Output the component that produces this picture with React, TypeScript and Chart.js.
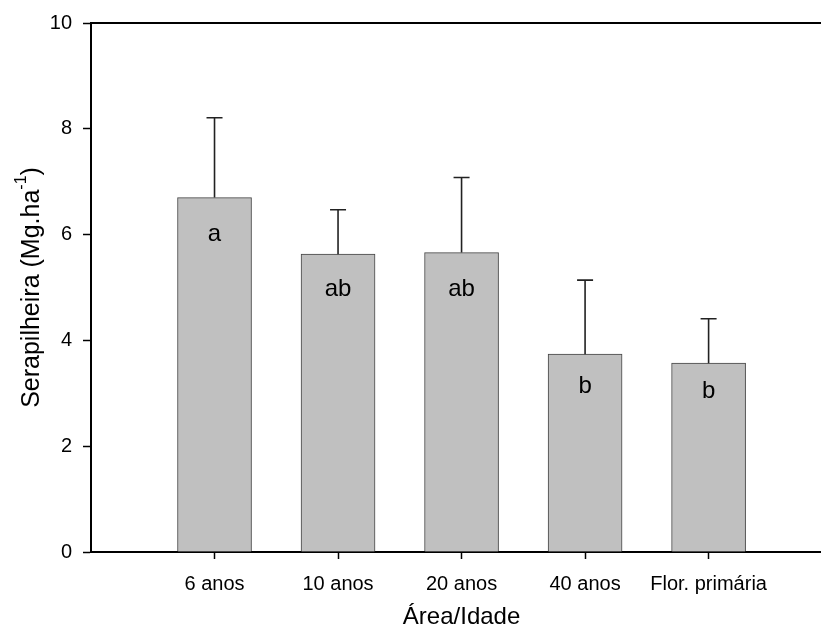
import React, { useEffect, useRef } from "react";
import { Chart, registerables } from "chart.js";

Chart.register(...registerables);

const categories = ["6 anos", "10 anos", "20 anos", "40 anos", "Flor. primária"];
const positions = [1, 2, 3, 4, 5];
const means = [6.7, 5.63, 5.66, 3.74, 3.57];
const errors = [1.51, 0.84, 1.42, 1.4, 0.84];
const letters = ["a", "ab", "ab", "b", "b"];
const letterBaselines = [5.87, 4.84, 4.83, 3.0, 2.91];
const yTicks = [0, 2, 4, 6, 8, 10];

const FONT = "'Liberation Sans', Arial, sans-serif";

const overlayPlugin = {
  id: "overlay",
  afterDatasetsDraw(chart: any) {
    const { ctx, chartArea, scales } = chart;
    const xs = scales.x;
    const ys = scales.y;
    ctx.save();
    // error bars
    ctx.strokeStyle = "#222";
    ctx.lineWidth = 1.6;
    means.forEach((m, i) => {
      const x = xs.getPixelForValue(positions[i]);
      const y0 = ys.getPixelForValue(m);
      const y1 = ys.getPixelForValue(m + errors[i]);
      ctx.beginPath();
      ctx.moveTo(x, y0);
      ctx.lineTo(x, y1);
      ctx.moveTo(x - 8, y1);
      ctx.lineTo(x + 8, y1);
      ctx.stroke();
    });
    // letters
    ctx.fillStyle = "#000";
    ctx.font = `24px ${FONT}`;
    ctx.textAlign = "center";
    ctx.textBaseline = "alphabetic";
    letters.forEach((t, i) => {
      ctx.fillText(t, xs.getPixelForValue(positions[i]), ys.getPixelForValue(letterBaselines[i]));
    });
    // top border line
    ctx.strokeStyle = "#000";
    ctx.lineWidth = 2;
    ctx.beginPath();
    ctx.moveTo(chartArea.left - 1, chartArea.top);
    ctx.lineTo(chartArea.right, chartArea.top);
    ctx.stroke();
    ctx.restore();
  },
  afterDraw(chart: any) {
    const { ctx, chartArea, scales } = chart;
    const xs = scales.x;
    ctx.save();
    ctx.fillStyle = "#000";
    // x title
    ctx.font = `24px ${FONT}`;
    ctx.textAlign = "center";
    ctx.textBaseline = "alphabetic";
    const cx = (xs.getPixelForValue(positions[0]) + xs.getPixelForValue(positions[positions.length - 1])) / 2;
    ctx.fillText("Área/Idade", cx, 624);
    // y title with superscript
    const main = "Serapilheira (Mg.ha";
    const sup = "-1";
    const close = ")";
    const mainFont = `25px ${FONT}`;
    const supFont = `16px ${FONT}`;
    ctx.font = mainFont;
    const wMain = ctx.measureText(main).width;
    const wClose = ctx.measureText(close).width;
    ctx.font = supFont;
    const wSup = ctx.measureText(sup).width;
    const total = wMain + wSup + wClose;
    const cy = (chartArea.top + chartArea.bottom) / 2;
    ctx.translate(39, cy);
    ctx.rotate(-Math.PI / 2);
    ctx.textAlign = "left";
    let x = -total / 2;
    ctx.font = mainFont;
    ctx.fillText(main, x, 0);
    x += wMain;
    ctx.font = supFont;
    ctx.fillText(sup, x, -13);
    x += wSup;
    ctx.font = mainFont;
    ctx.fillText(close, x, 0);
    ctx.restore();
  },
};

export default function App() {
  const ref = useRef<HTMLCanvasElement | null>(null);
  useEffect(() => {
    if (!ref.current) return;
    const chart = new Chart(ref.current, {
      type: "bar",
      data: {
        datasets: [
          {
            data: positions.map((p, i) => ({ x: p, y: means[i] })),
            backgroundColor: "#c0c0c0",
            borderColor: "#444",
            borderWidth: 1,
            barThickness: 74,
          },
        ],
      },
      options: {
        animation: false,
        responsive: false,
        layout: { padding: { top: 20, right: 0, left: 0, bottom: 0 } },
        plugins: { legend: { display: false }, tooltip: { enabled: false } },
        scales: {
          x: {
            type: "linear",
            min: 0,
            max: 5.91,
            offset: false,
            afterBuildTicks: (scale: any) => {
              scale.ticks = positions.map((v) => ({ value: v }));
            },
            afterFit: (scale: any) => {
              scale.height = 75;
            },
            ticks: {
              autoSkip: false,
              maxRotation: 0,
              color: "#000",
              font: { family: FONT, size: 20 },
              padding: 13,
              callback: (v: any) => categories[positions.indexOf(Number(v))] ?? "",
            },
            grid: {
              offset: false,
              drawOnChartArea: false,
              drawTicks: true,
              tickLength: 7,
              tickColor: "#000",
              tickWidth: 1.5,
            },
            border: { display: true, color: "#000", width: 2 },
          },
          y: {
            min: 0,
            max: 10,
            afterBuildTicks: (scale: any) => {
              scale.ticks = yTicks.map((v) => ({ value: v }));
            },
            afterFit: (scale: any) => {
              scale.width = 91;
            },
            ticks: {
              color: "#000",
              font: { family: FONT, size: 20 },
              padding: 11,
            },
            grid: {
              offset: false,
              drawOnChartArea: false,
              drawTicks: true,
              tickLength: 8,
              tickColor: "#000",
              tickWidth: 1.5,
            },
            border: { display: true, color: "#000", width: 2 },
          },
        },
      },
      plugins: [overlayPlugin],
    });
    return () => chart.destroy();
  }, []);
  return (
    <div style={{ position: "absolute", left: 0, top: 0, width: 821, height: 627 }}>
      <canvas ref={ref} width={821} height={627} />
    </div>
  );
}
